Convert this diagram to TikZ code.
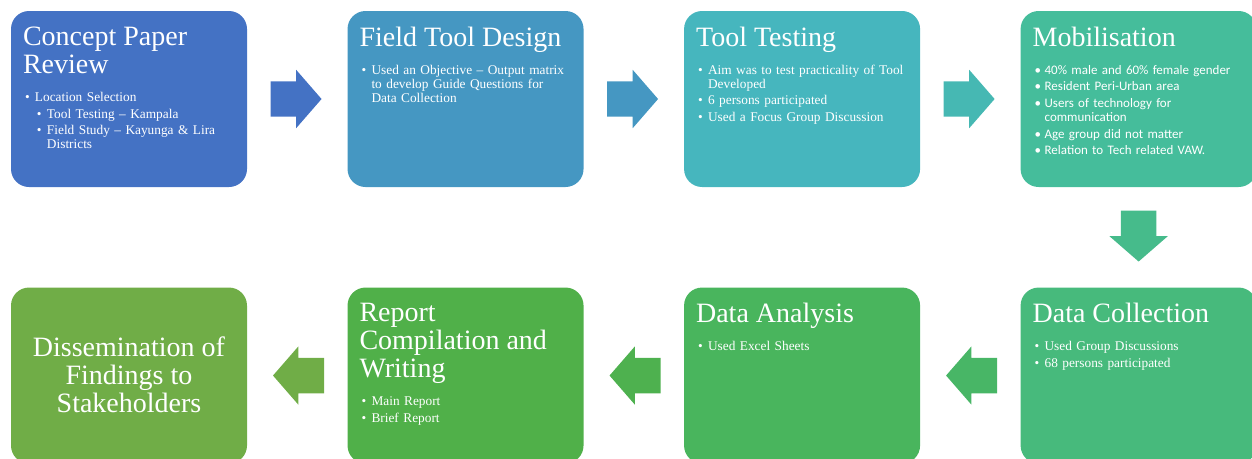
\documentclass[tikz,border=0pt]{standalone}
\usepackage{fontspec}
\setmainfont{Liberation Serif}
\newfontfamily\calibrifont{Carlito}
\usetikzlibrary{shapes.arrows,positioning,calc}
\definecolor{stageA}{HTML}{4472C4}
\definecolor{stageB}{HTML}{4597C2}
\definecolor{stageC}{HTML}{46B6BE}
\definecolor{stageD}{HTML}{45BD9B}
\definecolor{stageE}{HTML}{47BA7C}
\definecolor{stageF}{HTML}{49B55D}
\definecolor{stageG}{HTML}{50B049}
\definecolor{stageH}{HTML}{70AD47}
% bullet line, optional indent; \newline breaks inside it
\newcommand{\bul}[2][0pt]{\par\parskip=2pt\lineskip=0pt\relax\noindent\strut\hspace*{#1}\makebox[7.5pt][l]{\textbullet}\parbox[t]{\dimexpr150pt-#1\relax}{\raggedright\strut#2\strut}}
\tikzset{
  stagebox/.style={rectangle, rounded corners=13.5pt, minimum width=177pt, minimum height=132pt, inner sep=0pt},
  stagetitle/.style={anchor=north west, inner sep=0pt, align=left, text=white, text depth=5pt, font=\fontsize{21}{21}\selectfont},
  stagelist/.style={anchor=north west, inner sep=0pt, text width=160pt, text=white, font=\fontsize{10}{10.5}\selectfont},
  flowarrow/.style={single arrow, minimum height=38.25pt, inner xsep=0pt, inner ysep=13.1pt, single arrow head extend=8.6pt, single arrow tip angle=98},
}
\begin{document}
\begin{tikzpicture}[x=0.75pt, y=-0.75pt]
\useasboundingbox (0,0) rectangle (1252,458);
\clip (0,0) rectangle (1252,458);
% Boxes
\node (concept) [stagebox, fill=stageA] at (129,99) {};
\node (fielddesign) [stagebox, fill=stageB, right=75pt of concept] {};
\node (tooltest) [stagebox, fill=stageC, right=75pt of fielddesign] {};
\node (mobil) [stagebox, fill=stageD, right=75pt of tooltest] {};
\node (datacoll) [stagebox, fill=stageE, below=75pt of mobil] {};
\node (dataanal) [stagebox, fill=stageF, left=75pt of datacoll] {};
\node (report) [stagebox, fill=stageG, left=75pt of dataanal] {};
\node (dissem) [stagebox, fill=stageH, left=75pt of report] {};

% Titles
\node (conceptT) [stagetitle] at ([shift={(12,16)}]concept.north west) {Concept Paper\\Review};
\node (fielddesignT) [stagetitle] at ([shift={(12,16)}]fielddesign.north west) {Field Tool Design};
\node (tooltestT) [stagetitle] at ([shift={(12,16)}]tooltest.north west) {Tool Testing};
\node (mobilT) [stagetitle] at ([shift={(12,16)}]mobil.north west) {Mobilisation};
\node (datacollT) [stagetitle] at ([shift={(12,16)}]datacoll.north west) {Data Collection};
\node (dataanalT) [stagetitle] at ([shift={(12,16)}]dataanal.north west) {Data Analysis};
\node (reportT) [stagetitle] at ([shift={(12,16)}]report.north west) {Report\\Compilation and\\Writing};
\node (dissemT) [stagetitle, align=center, anchor=center, yshift=-2pt] at (dissem) {Dissemination of\\Findings to\\Stakeholders};

% Lists
\node (conceptL) [stagelist, below=3pt of conceptT.south west, anchor=north west, xshift=1.5pt] {%
  \bul{Location Selection}
  \bul[9pt]{Tool Testing -- Kampala}
  \bul[9pt]{Field Study -- Kayunga \& Lira\newline Districts}};
\node (fielddesignL) [stagelist, below=3pt of fielddesignT.south west, anchor=north west, xshift=1.5pt] {%
  \bul{Used an Objective -- Output matrix\newline to develop Guide Questions for\newline Data Collection}};
\node (tooltestL) [stagelist, below=3pt of tooltestT.south west, anchor=north west, xshift=1.5pt] {%
  \bul{Aim was to test practicality of Tool\newline Developed}
  \bul{6 persons participated}
  \bul{Used a Focus Group Discussion}};
\node (mobilL) [stagelist, below=3pt of mobilT.south west, anchor=north west, xshift=1.5pt, font=\calibrifont\fontsize{9.75}{10.5}\selectfont] {%
  \bul{40\% male and 60\% female gender}
  \bul{Resident Peri-Urban area}
  \bul{Users of technology for\newline communication}
  \bul{Age group did not matter}
  \bul{Relation to Tech related VAW.}};
\node (datacollL) [stagelist, below=3pt of datacollT.south west, anchor=north west, xshift=1.5pt] {%
  \bul{Used Group Discussions}
  \bul{68 persons participated}};
\node (dataanalL) [stagelist, below=3pt of dataanalT.south west, anchor=north west, xshift=1.5pt] {%
  \bul{Used Excel Sheets}};
\node (reportL) [stagelist, below=3pt of reportT.south west, anchor=north west, xshift=1.5pt] {%
  \bul{Main Report}
  \bul{Brief Report}};

% Arrows
\node (a1) [flowarrow, fill=stageA, right=17.25pt of concept, anchor=tail] {};
\node (a2) [flowarrow, fill=stageB, right=17.25pt of fielddesign, anchor=tail] {};
\node (a3) [flowarrow, fill=stageC!70!stageD, right=17.25pt of tooltest, anchor=tail] {};
\node (a4) [flowarrow, fill=stageD!50!stageE, rotate=-90, below=17.25pt of mobil, anchor=tail] {};
\node (a5) [flowarrow, fill=stageE!30!stageF, rotate=180, left=17.25pt of datacoll, anchor=tail] {};
\node (a6) [flowarrow, fill=stageF!30!stageG, rotate=180, left=17.25pt of dataanal, anchor=tail] {};
\node (a7) [flowarrow, fill=stageH, rotate=180, left=17.25pt of report, anchor=tail] {};
\end{tikzpicture}
\end{document}
